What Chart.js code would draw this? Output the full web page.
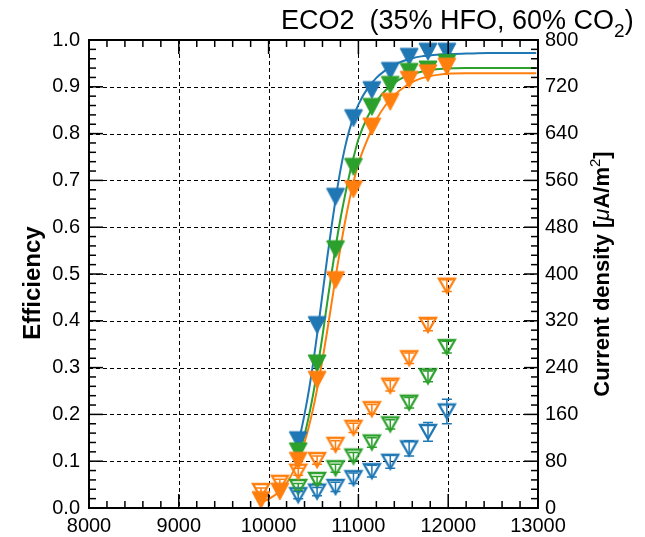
<!DOCTYPE html>
<html><head><meta charset="utf-8">
<script src="https://cdn.jsdelivr.net/npm/chart.js@4"></script>
<style>html,body{margin:0;padding:0;background:#fff}#wrap{width:645px;height:537px}</style>
</head><body><div id="wrap"><canvas id="c" width="645" height="537"></canvas></div>
<script>
// ---- data ----
const voltsOrange = [9915, 10125, 10330, 10540, 10745, 10945, 11150, 11355, 11565, 11775, 11985];
const voltsBG = [10330, 10540, 10745, 10945, 11150, 11355, 11565, 11775, 11985];

const effBlue = [0.145, 0.391, 0.665, 0.833, 0.893, 0.934, 0.964, 0.975, 0.975];
const effGreen = [0.121, 0.309, 0.553, 0.729, 0.857, 0.904, 0.932, 0.937, 0.951];
const effOrange = [0.017, 0.035, 0.101, 0.274, 0.487, 0.681, 0.815, 0.868, 0.915, 0.929, 0.943];

const cdBlue = [22, 28, 36, 51, 63, 79, 102, 130, 165];
const cdGreen = [36, 48, 68, 88, 112, 143, 180, 225, 275];
const cdOrange = [29, 43, 62, 82, 108, 137, 169, 209, 256, 313, 380];
const cdErrBlue = [6, 7, 8, 9, 10, 11, 13, 16, 21];
const cdErrGreen = [6, 6, 7, 7, 8, 8, 9, 9, 10];
const cdErrOrange = [5, 6, 6, 7, 7, 8, 8, 9, 9, 10, 10];

const fitVoltBG = [10300,10350,10400,10450,10500,10550,10600,10650,10700,10750,10800,10850,10900,10950,11000,11100,11200,11300,11400,11500,11600,11700,11800,11900,12000,12200,12450,12700,12980];
const fitEffBlue = [0.120,0.155,0.200,0.253,0.315,0.384,0.457,0.530,0.600,0.665,0.722,0.770,0.808,0.838,0.862,0.896,0.919,0.935,0.947,0.955,0.961,0.965,0.967,0.969,0.970,0.971,0.972,0.972,0.972];
const fitEffGreen = [0.093,0.121,0.156,0.198,0.247,0.305,0.368,0.435,0.500,0.562,0.618,0.667,0.712,0.752,0.788,0.835,0.868,0.892,0.908,0.920,0.927,0.932,0.936,0.938,0.939,0.940,0.940,0.940,0.940];
const fitVoltOrange = [9900,10000,10100,10200,10300,10350,10400,10450,10500,10550,10600,10650,10700,10750,10800,10850,10900,10950,11000,11100,11200,11300,11400,11500,11600,11700,11800,11900,12000,12200,12450,12700,12980];
const fitEffOrange = [0.011,0.019,0.032,0.053,0.088,0.111,0.140,0.175,0.216,0.264,0.317,0.375,0.436,0.498,0.556,0.610,0.658,0.700,0.736,0.787,0.830,0.860,0.882,0.898,0.910,0.918,0.923,0.926,0.928,0.929,0.929,0.929,0.929];

const xTickValues = [8000, 9000, 10000, 11000, 12000, 13000];

// ---- styling ----
const BLUE = '#1f77b4', ORANGE = '#ff7f0e', GREEN = '#2ca02c';
const FONT = '"Liberation Sans", Arial, sans-serif';

function triCanvas(color, filled, w, h, lw) {
  const pad = Math.ceil(lw) + 1;
  const c = document.createElement('canvas');
  c.width = w + 2 * pad; c.height = h + 2 * pad;
  const g = c.getContext('2d');
  g.beginPath();
  g.moveTo(pad, pad); g.lineTo(pad + w, pad); g.lineTo(pad + w / 2, pad + h); g.closePath();
  g.lineJoin = 'miter';
  if (filled) { g.fillStyle = color; g.fill(); }
  g.lineWidth = lw; g.strokeStyle = color; g.stroke();
  return c;
}
const pts = (xs, ys) => xs.map((x, i) => ({x: x, y: ys[i]}));

function fitDs(xs, ys, color, order) {
  return {type: 'line', data: pts(xs, ys), borderColor: color, borderWidth: 2, pointRadius: 0,
    showLine: true, fill: false, cubicInterpolationMode: 'monotone', yAxisID: 'y', order: order, clip: false};
}
function markDs(xs, ys, color, filled, axis, order, errs) {
  return {type: 'scatter', data: pts(xs, ys), yAxisID: axis, order: order, clip: false,
    pointStyle: filled ? triCanvas(color, true, 18, 17, 1) : triCanvas(color, false, 16, 14, 2.3),
    pointRadius: 9, borderColor: color, backgroundColor: color, errs: errs, errColor: color};
}

const datasets = [
  markDs(voltsOrange, effOrange, ORANGE, true, 'y', 1),
  markDs(voltsBG, effGreen, GREEN, true, 'y', 2),
  markDs(voltsBG, effBlue, BLUE, true, 'y', 3),
  markDs(voltsOrange, cdOrange, ORANGE, false, 'y2', 4, cdErrOrange),
  markDs(voltsBG, cdGreen, GREEN, false, 'y2', 5, cdErrGreen),
  markDs(voltsBG, cdBlue, BLUE, false, 'y2', 6, cdErrBlue),
  fitDs(fitVoltOrange, fitEffOrange, ORANGE, 10),
  fitDs(fitVoltBG, fitEffGreen, GREEN, 11),
  fitDs(fitVoltBG, fitEffBlue, BLUE, 12)
];

const deco = {
  id: 'deco',
  beforeDatasetsDraw(chart) {
    const {ctx, chartArea: a, scales} = chart;
    ctx.save();
    ctx.strokeStyle = '#000'; ctx.lineWidth = 1; ctx.setLineDash([4, 3]);
    for (const v of xTickValues) {
      const px = Math.round(scales.x.getPixelForValue(v)) + 0.5;
      ctx.beginPath(); ctx.moveTo(px, a.top); ctx.lineTo(px, a.bottom); ctx.stroke();
    }
    for (let i = 1; i < 10; i++) {
      const py = Math.round(scales.y.getPixelForValue(i / 10)) + 0.5;
      ctx.beginPath(); ctx.moveTo(a.left, py); ctx.lineTo(a.right, py); ctx.stroke();
    }
    ctx.restore();
  },
  afterDatasetsDraw(chart) {
    const {ctx, chartArea: a, scales} = chart;
    ctx.save();
    // error bars
    chart.data.datasets.forEach(ds => {
      if (!ds.errs) return;
      ctx.strokeStyle = ds.errColor; ctx.lineWidth = 1.5;
      ds.data.forEach((p, i) => {
        const px = scales.x.getPixelForValue(p.x);
        const y1 = scales.y2.getPixelForValue(p.y - ds.errs[i]);
        const y2 = scales.y2.getPixelForValue(p.y + ds.errs[i]);
        ctx.beginPath();
        ctx.moveTo(px, y1); ctx.lineTo(px, y2);
        ctx.moveTo(px - 5, y1); ctx.lineTo(px + 5, y1);
        ctx.moveTo(px - 5, y2); ctx.lineTo(px + 5, y2);
        ctx.stroke();
      });
    });
    // inward ticks
    ctx.strokeStyle = '#000'; ctx.lineWidth = 1.5;
    for (let v = 8000; v <= 13000; v += 200) {
      const px = scales.x.getPixelForValue(v);
      const len = v % 1000 === 0 ? 14 : 7;
      ctx.beginPath();
      ctx.moveTo(px, a.bottom); ctx.lineTo(px, a.bottom - len);
      ctx.moveTo(px, a.top); ctx.lineTo(px, a.top + len);
      ctx.stroke();
    }
    for (let k = 0; k <= 50; k++) {
      const py = scales.y.getPixelForValue(k / 50);
      const len = k % 5 === 0 ? 14 : 7;
      ctx.beginPath(); ctx.moveTo(a.left, py); ctx.lineTo(a.left + len, py); ctx.stroke();
    }
    for (let v = 0; v <= 800; v += 16) {
      const py = scales.y2.getPixelForValue(v);
      const len = v % 80 === 0 ? 14 : 7;
      ctx.beginPath(); ctx.moveTo(a.right, py); ctx.lineTo(a.right - len, py); ctx.stroke();
    }
    // frame
    ctx.lineWidth = 2;
    ctx.strokeRect(a.left, a.top, a.right - a.left, a.bottom - a.top);
    ctx.restore();
  },
  afterDraw(chart) {
    const {ctx} = chart;
    ctx.save();
    ctx.fillStyle = '#000';
    ctx.textBaseline = 'alphabetic';
    // main title
    ctx.font = '27px ' + FONT;
    let x = 281;
    const main = 'ECO2  (35% HFO, 60% CO';
    ctx.fillText(main, x, 29);
    x += ctx.measureText(main).width;
    ctx.font = '19px ' + FONT;
    ctx.fillText('2', x, 37);
    x += ctx.measureText('2').width;
    ctx.font = '27px ' + FONT;
    ctx.fillText(')', x, 29);
    // left axis title
    ctx.save();
    ctx.translate(40, 283); ctx.rotate(-Math.PI / 2);
    ctx.font = 'bold 24px ' + FONT; ctx.textAlign = 'center';
    ctx.fillText('Efficiency', 0, 0);
    ctx.restore();
    // right axis title
    const segs = [
      {t: 'Current density [', f: 'bold 22px ' + FONT, dy: 0},
      {t: '\u03bc', f: 'italic 22px ' + FONT, dy: 0},
      {t: 'A/m', f: 'bold 22px ' + FONT, dy: 0},
      {t: '2', f: '15px ' + FONT, dy: -9},
      {t: ']', f: 'bold 22px ' + FONT, dy: 0}
    ];
    let tot = 0;
    segs.forEach(s => { ctx.font = s.f; s.w = ctx.measureText(s.t).width; tot += s.w; });
    ctx.save();
    ctx.translate(609, 274); ctx.rotate(-Math.PI / 2);
    let sx = -tot / 2;
    segs.forEach(s => { ctx.font = s.f; ctx.fillText(s.t, sx, s.dy); sx += s.w; });
    ctx.restore();
    ctx.restore();
  }
};

const tickFont = {family: FONT, size: 20};
new Chart(document.getElementById('c'), {
  type: 'scatter',
  data: {datasets: datasets},
  options: {
    responsive: false, animation: false, devicePixelRatio: 1,
    layout: {padding: {top: 40, left: 0, right: 0, bottom: 0}},
    plugins: {legend: {display: false}, tooltip: {enabled: false}, title: {display: false}},
    scales: {
      x: {type: 'linear', min: 8000, max: 13000, position: 'bottom',
        afterBuildTicks: s => { s.ticks = xTickValues.map(v => ({value: v})); },
        ticks: {font: tickFont, color: '#000', padding: 6, maxRotation: 0, autoSkip: false, callback: v => String(v)},
        grid: {display: false, drawTicks: false}, border: {display: false},
        afterFit: s => { s.height = 29; }},
      y: {type: 'linear', min: 0, max: 1, position: 'left',
        ticks: {stepSize: 0.1, font: tickFont, color: '#000', padding: 9, callback: v => v.toFixed(1)},
        grid: {display: false, drawTicks: false}, border: {display: false},
        afterFit: s => { s.width = 89; }},
      y2: {type: 'linear', min: 0, max: 800, position: 'right',
        ticks: {stepSize: 80, font: tickFont, color: '#000', padding: 7, callback: v => String(v)},
        grid: {display: false, drawTicks: false}, border: {display: false},
        afterFit: s => { s.width = 107; }}
    }
  },
  plugins: [deco]
});
</script>
</body></html>
